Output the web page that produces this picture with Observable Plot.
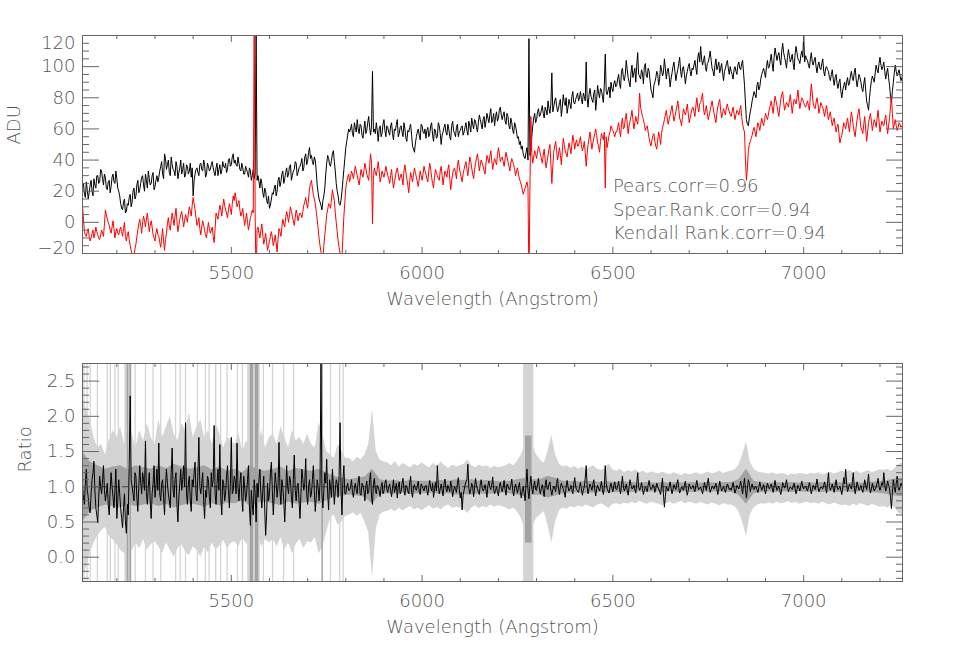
<!DOCTYPE html>
<html><head><meta charset="utf-8">
<script src="https://cdn.jsdelivr.net/npm/d3@7"></script>
<script src="https://cdn.jsdelivr.net/npm/@observablehq/plot@0.6"></script>
<style>
body{margin:0;background:#fff;}
#chart svg{display:block;}
</style></head><body><div id="chart"></div>
<script>
// ---------- sampling grid (Angstrom) ----------
const lambdaStart = 5110;
const specStep = 5;     // black, red, ratio (main samples)
const halfOffset = 2.5; // in-between samples of the same spectra
const bandStep = 10;    // light (outer) error band
const darkStep = 20;    // dark (inner) error band

// ---------- top panel: ADU spectra (rows of 100 A) ----------
const black = [
 22,18,26,15,24,20,28,22,30,26,33,24,29,21,27,23,31,25,28,20,        // 5110
 12,8,15,7,11,18,13,22,17,27,21,29,24,31,22,28,25,32,23,30,           // 5210
 29,36,31,44,34,40,30,37,33,39,28,35,31,38,30,36,33,29,17,31,         // 5310
 35,30,38,33,37,31,36,34,39,32,35,30,37,33,36,38,34,41,37,44,         // 5410
 40,36,38,33,35,31,34,29,33,30,28,125,30,22,25,16,20,12,9,15,         // 5510
 18,24,20,29,26,33,28,35,31,37,30,34,38,32,36,41,35,44,39,48,         // 5610
 43,37,40,24,15,11,14,22,38,41,36,44,39,25,17,11,20,34,48,56,         // 5710
 58,63,55,61,66,57,62,54,65,59,68,56,97,60,64,52,62,57,66,55,         // 5810
 61,56,64,53,59,66,57,62,55,60,52,58,63,49,45,55,60,53,62,57,         // 5910
 54,61,57,64,52,59,55,62,50,58,63,56,60,53,65,57,61,55,59,62,         // 6010
 58,64,56,62,67,60,65,58,69,63,66,61,70,64,73,66,62,71,67,74,         // 6110
 66,71,63,68,60,64,57,62,54,50,47,44,41,48,118,46,62,70,66,73,        // 6210
 69,75,67,72,78,70,96,74,80,71,77,68,82,75,70,79,73,84,76,81,         // 6310
 78,84,76,81,103,74,86,79,83,72,88,80,85,77,108,82,87,90,84,91,       // 6410
 88,95,86,99,91,104,93,87,101,96,90,109,94,98,89,102,93,97,85,80,     // 6510
 90,97,88,101,94,105,92,99,87,96,103,91,98,106,93,100,89,97,102,94,   // 6610
 98,104,95,109,113,101,107,97,103,110,99,94,105,100,96,102,91,99,104,95, // 6710
 97,92,100,95,103,98,104,88,66,62,71,78,84,80,90,87,95,99,93,104,     // 6810
 100,108,97,112,104,109,101,115,106,99,111,103,108,98,113,105,102,110,120,107, // 6910
 104,99,109,101,106,96,103,98,105,94,100,97,91,98,88,95,86,92,80,88,  // 7010
 85,93,89,97,91,99,87,95,90,84,93,78,72,86,94,90,101,96,106,98,       // 7110
 103,92,99,88,77,90,101,94,98,91,96                                   // 7210-7260
];
const blackHalf = [ // 5112.5, 5117.5, ...
 25,16,21,19,27,17,24,30,25,34,28,31,22,26,19,29,26,33,22,17,
 9,13,6,12,16,10,20,15,24,19,25,30,20,27,33,24,30,21,27,26,
 33,39,28,41,37,32,42,34,30,36,32,40,34,29,37,31,38,35,27,34,
 32,37,34,40,29,38,33,37,35,30,38,34,31,39,35,32,40,36,42,38,
 37,42,34,38,31,36,32,35,27,34,31,27,26,28,19,22,14,17,11,19,
 22,17,27,23,31,25,32,29,36,27,33,39,30,35,38,33,42,37,45,41,
 39,42,33,19,13,8,17,31,43,37,40,46,33,20,12,14,27,41,52,60,
 60,57,64,58,60,63,56,60,57,64,61,62,58,57,59,60,55,63,59,62,
 58,62,57,60,63,55,61,58,64,54,59,61,56,47,51,58,56,63,58,60,
 59,55,62,56,60,54,64,57,56,61,58,63,55,62,59,55,63,58,61,56,
 61,59,65,58,63,66,61,64,66,60,68,65,67,69,64,70,68,65,72,69,
 69,65,70,62,67,59,64,58,55,52,49,42,45,40,43,55,67,64,71,68,
 72,70,74,69,73,76,71,78,75,73,79,74,77,80,74,76,81,77,79,83,
 80,79,83,78,80,82,81,77,85,79,83,86,81,88,84,85,80,86,89,87,
 92,89,97,93,95,98,90,96,93,99,101,95,92,96,100,94,99,91,83,88,
 93,95,92,98,96,99,97,94,92,100,97,95,102,97,99,95,94,100,97,99,
 101,99,106,103,105,104,100,102,106,104,97,101,98,103,99,96,97,102,99,100,
 95,98,97,101,99,102,96,76,63,67,74,81,82,88,85,92,97,96,100,99,
 104,102,106,108,107,104,110,109,103,106,107,105,102,108,109,104,107,106,103,105,
 101,105,103,104,100,101,99,102,97,99,98,93,95,92,93,89,90,84,85,90,
 90,88,94,93,96,92,91,93,86,89,85,75,80,91,92,96,98,102,101,100,
 97,96,93,81,84,96,97,96,94,93
];
const red = [
 11,-6,-9,-4,-12,-7,-10,-3,-8,-11,-5,-9,8,2,-2,-7,1,-10,-4,-8,        // 5110
 -3,-9,0,-12,-6,-15,-20,-22,-14,-5,2,-7,4,-3,6,-6,1,-8,-12,-4,        // 5210
 -9,-16,-4,-18,-7,3,-5,6,-2,9,-6,2,7,-3,5,0,10,4,16,8,                // 5310
 -2,3,-8,1,-5,-10,0,-7,-3,-13,6,2,11,4,15,8,3,12,5,17,                // 5410
 19,10,14,4,9,-2,6,-5,3,8,130,-40,-3,-10,-1,-14,-7,-18,-12,-6,        // 5510
 -15,-8,-19,-4,-9,2,-3,7,0,10,4,-2,8,1,6,3,11,16,9,22,                // 5610
 27,18,12,2,-10,-19,-24,-8,5,12,9,21,14,0,-12,-20,-22,4,22,29,        // 5710
 26,33,28,36,30,24,34,29,38,31,27,44,-1,35,30,39,26,33,29,36,         // 5810
 30,25,34,22,29,35,27,31,24,37,28,19,32,26,35,29,23,33,27,36,         // 5910
 31,26,38,29,22,34,30,27,36,24,33,29,37,21,31,35,28,40,32,26,         // 6010
 34,39,30,42,35,28,38,44,33,40,36,31,43,38,46,34,41,37,48,39,         // 6110
 42,36,45,39,33,41,37,30,35,28,24,18,22,26,-40,68,38,46,41,49,        // 6210
 44,38,47,35,43,50,25,45,52,40,48,37,54,46,42,51,44,56,47,53,         // 6310
 49,55,46,52,36,50,58,47,54,60,51,45,57,53,22,48,56,62,59,55,         // 6410
 58,64,55,67,61,70,57,65,72,60,68,63,83,71,66,59,62,54,49,56,         // 6510
 52,47,58,50,61,66,72,63,69,75,65,71,78,67,62,73,69,76,64,70,         // 6610
 74,68,80,71,77,83,69,75,66,72,78,70,64,74,79,67,73,69,76,71,         // 6710
 68,74,66,72,69,75,63,58,27,46,52,56,61,55,64,59,67,62,70,66,         // 6810
 73,78,70,81,75,68,79,84,72,77,74,82,70,79,76,85,73,80,77,74,         // 6910
 78,72,89,76,73,80,70,77,74,68,75,66,71,62,67,58,63,51,56,64,         // 7010
 60,67,58,71,62,55,66,73,61,57,68,52,64,70,59,66,61,72,58,65,         // 7110
 62,69,57,67,81,60,66,59,64,61,63                                     // 7210-7260
];
const redHalf = [ // 5112.5, 5117.5, ...
 2,-8,-6,-9,-10,-5,-7,-6,-10,-8,-7,-1,5,0,-5,-3,-4,-6,-7,-5,
 -6,-4,-9,-8,-11,-18,-21,-17,-9,-1,-2,0,1,2,0,-2,-3,-10,-7,-8,
 -13,-10,-12,-11,-1,-2,1,2,4,1,-2,5,2,1,3,6,7,11,12,3,
 0,-4,-3,-2,-8,-5,-4,-5,-9,-4,4,7,8,10,11,6,8,9,12,14,
 15,12,8,6,3,2,0,-1,5,6,4,-5,-7,-5,-8,-11,-13,-15,-9,-10,
 -12,-13,-11,-6,-3,-1,3,4,5,7,1,3,5,4,5,7,13,12,15,25,
 22,15,7,-4,-15,-21,-15,-2,8,11,15,17,6,-6,-16,-23,-9,13,26,31,
 29,31,32,33,27,29,31,33,35,29,36,38,30,32,34,33,29,31,32,33,
 28,30,27,26,33,31,29,28,33,32,24,26,29,31,32,26,28,30,31,33,
 28,33,34,25,29,32,28,33,30,29,31,34,28,27,34,32,36,35,29,31,
 37,34,36,39,31,34,41,39,37,38,33,38,41,42,40,38,39,43,44,41,
 39,41,42,36,38,39,34,33,31,26,21,20,24,22,20,44,42,44,45,47,
 41,43,40,39,47,38,36,49,46,44,43,46,50,44,47,48,50,52,51,49,
 52,50,48,45,44,54,52,51,57,56,49,52,55,58,55,52,58,60,57,58,
 61,59,63,60,66,64,62,68,66,64,65,70,74,68,63,61,58,51,53,57,
 49,53,55,57,63,69,67,66,72,70,68,74,73,65,68,71,72,70,67,73,
 71,75,74,76,80,73,72,70,69,75,74,67,70,77,72,70,71,74,73,69,
 71,70,69,71,72,68,60,40,35,50,54,59,58,60,62,63,64,66,68,69,
 75,74,76,78,71,74,82,77,75,76,78,76,75,78,80,78,77,79,75,76,
 75,81,83,74,77,76,73,75,71,72,70,69,66,65,62,61,57,54,60,62,
 64,62,65,67,58,61,70,67,59,63,60,58,67,65,63,64,67,65,62,63,
 66,63,62,74,70,63,62,61,63,62
];

// ---------- bottom panel: ratio ----------
const ratio = [
 1.0,0.75,1.25,0.85,0.63,1.1,1.36,0.7,0.49,1.15,0.9,1.3,0.8,1.05,0.6,1.2,0.85,0.95,0.55,1.1,      // 5110
 0.7,0.42,0.9,0.34,0.6,2.29,1.0,0.8,1.15,0.65,1.3,0.9,1.1,1.65,0.75,1.2,0.55,1.05,0.85,1.25,      // 5210
 1.62,0.8,1.1,0.6,1.25,0.9,0.7,1.55,0.85,1.2,0.5,1.05,0.95,1.3,1.91,0.75,1.15,0.65,1.0,1.35,      // 5310
 0.8,1.7,0.9,1.2,0.55,0.85,1.1,0.7,1.0,1.87,0.75,1.25,1.6,0.6,1.05,0.9,1.3,0.7,1.7,0.95,          // 5410
 1.1,1.62,0.8,1.2,0.65,1.0,0.9,1.3,0.45,0.75,1.1,0.5,0.85,1.25,0.7,1.15,0.31,1.05,0.9,1.35,       // 5510
 0.6,1.2,0.85,1.63,0.75,1.0,0.5,1.3,0.9,1.1,0.7,1.45,0.8,1.05,0.55,1.25,0.95,1.4,0.75,1.1,        // 5610
 0.9,1.3,0.65,1.1,0.8,2.8,0.7,1.2,1.39,0.67,1.0,1.25,0.75,1.1,0.85,1.91,0.6,1.3,0.9,1.05,         // 5710
 0.95,1.1,0.85,1.05,0.9,1.15,0.88,1.02,0.8,1.08,0.92,1.2,0.75,1.12,0.9,1.0,0.86,1.06,0.94,1.1,    // 5810
 0.92,1.04,0.86,1.1,0.97,0.84,1.07,0.93,1.12,0.88,1.0,0.9,1.15,0.85,1.03,0.95,1.08,0.89,1.01,0.94, // 5910
 1.02,0.88,1.09,0.94,0.85,1.06,1.3,0.9,1.04,0.87,1.11,0.93,0.98,1.08,0.86,1.0,0.92,1.13,0.84,0.67, // 6010
 0.95,1.07,1.32,0.9,1.05,0.86,1.12,0.97,0.89,1.1,0.94,1.03,0.85,1.08,0.96,1.14,0.9,1.0,0.87,1.06,  // 6110
 0.93,1.09,0.88,1.02,0.96,1.11,0.87,1.04,0.91,1.06,0.84,1.0,0.8,1.25,0.83,1.15,0.9,1.08,0.95,1.12,  // 6210
 0.9,1.03,0.86,1.1,0.96,1.07,0.88,1.01,0.93,1.12,0.89,1.05,0.97,0.85,1.09,0.94,1.02,0.9,1.13,0.96,  // 6310
 0.92,1.06,0.88,1.0,1.3,0.9,1.04,0.95,1.1,0.87,1.02,0.94,1.08,0.89,1.3,0.97,0.91,1.05,0.93,1.07,   // 6410
 0.96,1.08,0.9,1.15,0.94,1.04,0.88,1.1,0.97,1.02,0.91,1.2,0.95,1.06,0.89,1.0,0.93,1.09,0.96,1.03,  // 6510
 0.92,1.05,0.97,0.89,1.12,0.71,1.0,0.94,1.07,0.9,1.03,0.96,1.1,0.91,1.0,0.95,1.08,0.88,1.04,0.97,  // 6610
 1.02,0.93,1.09,0.96,1.0,0.9,1.06,0.95,1.12,0.92,1.01,0.97,1.05,0.89,1.08,0.94,1.0,0.92,1.04,0.96,  // 6710
 0.95,1.06,0.91,1.02,0.97,1.08,0.9,1.12,0.84,1.1,0.93,1.04,0.96,1.0,0.92,1.07,0.95,1.03,0.9,1.05,  // 6810
 0.97,1.04,0.92,1.09,0.95,1.01,0.89,1.06,0.98,1.1,0.93,1.0,0.96,1.05,0.9,1.02,0.94,1.08,0.97,1.01,  // 6910
 0.94,1.06,0.9,1.02,0.96,1.11,0.93,1.0,0.97,1.07,0.91,1.2,0.95,1.04,0.92,1.1,0.96,1.01,0.89,1.13,  // 7010
 1.25,0.93,1.04,0.97,1.2,0.9,1.07,0.95,1.02,0.92,1.1,0.96,1.18,0.91,1.05,0.94,1.0,1.12,0.95,1.06,  // 7110
 1.2,0.94,1.08,0.97,0.69,1.1,0.92,1.15,0.95,1.05,1.0                                               // 7210-7260
];
const ratioHalf = [ // 5112.5, 5117.5, ...
 0.85,1.05,0.95,0.7,0.9,1.2,0.95,0.6,0.85,1.0,1.1,0.95,0.9,0.75,0.95,1.0,0.7,1.25,0.8,0.9,
 0.55,0.7,0.5,0.75,1.35,1.1,0.9,1.2,0.85,1.0,1.05,1.2,0.95,0.9,1.0,0.8,0.9,1.3,1.0,0.95,
 0.9,1.05,0.85,1.0,1.05,0.8,1.2,0.95,1.1,0.75,0.85,1.25,1.1,1.0,0.9,1.05,0.8,1.1,1.2,0.9,
 1.2,1.0,1.05,0.8,0.95,1.15,0.85,1.2,1.1,0.9,1.05,0.95,0.85,1.1,0.8,1.15,0.95,1.05,0.9,1.15,
 0.9,1.0,1.05,0.85,1.15,0.8,1.1,0.7,0.95,0.6,0.9,1.05,1.1,0.9,0.95,0.7,0.6,0.8,1.2,0.95,
 0.9,1.05,1.0,0.95,1.1,0.8,0.85,1.0,1.15,0.85,1.1,0.95,1.0,0.8,0.9,1.1,1.05,0.9,1.0,0.85,
 1.1,0.95,0.85,1.0,1.05,0.9,0.95,1.05,0.9,1.1,0.85,1.0,0.95,1.05,1.15,0.95,1.1,0.9,1.0,0.95,
 1.0,0.92,0.98,0.95,1.08,0.9,1.05,0.95,1.0,0.9,1.1,0.85,1.05,0.95,1.02,0.94,1.0,0.9,1.05,0.97,
 1.0,0.95,0.98,0.92,1.05,1.0,0.9,1.05,0.95,1.02,0.94,1.06,0.92,1.0,0.96,1.02,0.93,1.04,0.97,1.0,
 0.95,1.0,0.98,1.05,0.96,0.94,1.02,0.97,0.95,1.04,0.98,1.02,0.93,1.0,0.95,0.97,1.05,0.96,0.92,0.88,
 1.02,1.1,0.98,0.96,1.0,0.99,1.02,0.93,1.04,0.98,0.97,0.95,1.02,0.99,1.03,0.97,0.95,0.93,1.0,0.98,
 1.0,0.96,1.04,0.97,1.02,0.95,0.98,0.97,0.99,0.93,0.95,0.9,1.05,0.95,1.02,0.98,1.02,0.96,1.04,0.97,
 0.98,0.95,1.02,0.97,1.04,0.95,0.96,0.98,1.05,0.97,1.0,1.0,0.92,1.0,1.0,0.97,0.96,1.04,1.0,0.94,
 1.0,0.97,0.95,1.12,1.0,0.98,1.0,1.03,0.96,0.97,0.98,1.0,0.96,1.0,1.05,0.94,1.0,0.98,1.02,0.97,
 1.01,0.97,1.03,1.0,0.98,0.95,1.0,1.02,0.98,0.96,1.05,1.0,0.99,0.97,0.95,0.97,1.02,1.0,0.98,1.0,
 0.98,1.0,0.93,1.01,0.9,0.86,0.97,1.0,0.98,0.96,0.99,1.04,0.99,0.95,0.98,1.02,0.96,0.95,1.0,0.99,
 0.97,1.02,1.0,0.98,0.95,0.98,1.0,1.05,1.0,0.96,0.99,1.01,0.97,0.98,1.0,0.97,0.96,0.99,1.01,0.98,
 1.0,0.98,0.96,1.0,1.02,0.98,1.02,0.96,0.98,1.05,0.99,0.98,1.0,0.96,0.99,1.0,0.98,0.96,0.98,1.01,
 1.0,0.98,1.01,1.0,0.98,0.95,0.97,1.02,1.03,1.0,0.97,0.98,1.01,0.97,0.96,0.99,1.01,1.0,0.99,0.97,
 1.0,0.98,0.96,0.99,1.03,1.0,0.97,0.98,1.02,0.99,1.05,1.0,0.99,0.98,1.02,1.0,0.98,0.95,1.0,1.04,
 1.05,0.98,1.0,1.06,1.0,0.98,1.01,0.98,0.96,1.0,1.02,1.05,1.0,0.97,0.99,0.97,1.05,1.0,1.0,1.02,
 1.04,1.0,1.02,0.85,0.92,1.0,1.05,1.0,0.99,1.02
];
const lightHi = [
 2.3,2.1,1.95,1.7,1.55,1.6,1.45,1.65,1.8,1.7,
 1.85,1.6,1.9,1.75,1.55,1.8,1.65,1.9,1.7,1.6,
 1.95,1.7,1.85,2.0,1.75,1.65,1.9,1.8,2.05,1.7,
 1.85,1.95,1.7,1.8,1.6,1.9,1.75,1.55,1.7,1.65,
 1.6,1.75,1.5,1.65,1.55,1.7,1.6,1.8,1.55,1.7,
 1.75,1.6,1.85,1.7,1.55,1.8,1.65,1.7,1.6,1.75,
 1.6,1.55,1.9,1.75,1.5,1.45,1.4,1.6,1.5,1.4,
 1.4,1.35,1.42,1.38,1.45,1.6,2.1,1.5,1.38,1.35,
 1.34,1.3,1.36,1.28,1.33,1.3,1.27,1.32,1.29,1.34,
 1.3,1.27,1.33,1.29,1.35,1.3,1.26,1.31,1.28,1.3,
 1.32,1.38,1.3,1.27,1.31,1.28,1.3,1.26,1.29,1.27,
 1.28,1.3,1.33,1.3,1.36,1.45,1.6,1.7,1.6,1.45,
 1.38,1.33,1.5,1.73,1.45,1.32,1.28,1.3,1.26,1.29,
 1.25,1.28,1.24,1.27,1.3,1.25,1.23,1.26,1.32,1.24,
 1.22,1.25,1.2,1.23,1.21,1.24,1.2,1.22,1.19,1.21,
 1.2,1.18,1.21,1.19,1.17,1.2,1.18,1.16,1.19,1.17,
 1.18,1.2,1.17,1.19,1.21,1.18,1.2,1.22,1.19,1.21,
 1.22,1.24,1.3,1.45,1.64,1.35,1.25,1.21,1.2,1.19,
 1.18,1.2,1.17,1.19,1.18,1.16,1.18,1.17,1.19,1.18,
 1.17,1.19,1.18,1.2,1.17,1.19,1.21,1.18,1.2,1.22,
 1.21,1.23,1.2,1.22,1.19,1.21,1.23,1.2,1.22,1.24,
 1.23,1.25,1.22,1.26,1.32,1.34
];
const lightLo = [
 -0.3,-0.15,0.05,0.2,0.3,0.38,0.42,0.3,0.25,0.18,
 0.1,0.05,0.15,0.08,0.2,0.12,0.25,0.1,0.18,0.22,
 0.15,0.05,0.2,0.1,0.0,0.12,0.18,0.08,0.02,0.15,
 0.1,0.0,0.14,0.06,0.2,0.1,0.16,0.24,0.12,0.2,
 0.22,0.15,0.28,0.18,0.25,0.2,0.3,0.15,0.25,0.2,
 0.25,0.15,0.28,0.1,0.2,0.05,0.18,0.25,0.12,0.22,
 0.2,0.28,0.05,0.15,0.35,0.55,0.6,0.45,0.5,0.58,
 0.6,0.63,0.58,0.62,0.5,0.35,-0.3,0.4,0.6,0.64,
 0.65,0.68,0.64,0.7,0.66,0.69,0.72,0.67,0.7,0.66,
 0.7,0.73,0.68,0.71,0.67,0.72,0.74,0.69,0.71,0.7,
 0.68,0.62,0.7,0.73,0.69,0.72,0.7,0.74,0.71,0.73,
 0.72,0.7,0.67,0.7,0.64,0.55,0.4,0.35,0.45,0.55,
 0.6,0.65,0.45,0.2,0.5,0.66,0.7,0.68,0.72,0.7,
 0.73,0.71,0.74,0.72,0.7,0.74,0.76,0.73,0.69,0.75,
 0.76,0.74,0.77,0.75,0.78,0.76,0.79,0.77,0.75,0.78,
 0.77,0.75,0.73,0.76,0.78,0.75,0.77,0.79,0.76,0.78,
 0.77,0.75,0.78,0.76,0.74,0.77,0.75,0.73,0.76,0.74,
 0.74,0.72,0.65,0.5,0.29,0.6,0.7,0.74,0.76,0.75,
 0.77,0.75,0.78,0.76,0.77,0.79,0.76,0.78,0.75,0.77,
 0.78,0.76,0.77,0.75,0.78,0.76,0.74,0.77,0.75,0.73,
 0.74,0.72,0.75,0.73,0.76,0.74,0.72,0.75,0.73,0.71,
 0.72,0.7,0.73,0.69,0.62,0.6
];
const darkHi = [
 1.5,1.35,1.3,1.25,1.28,  1.3,1.24,1.3,1.27,1.25,  1.3,1.26,1.32,1.28,1.25,  1.27,1.3,1.24,1.28,1.22,
 1.25,1.2,1.3,1.24,1.22,  1.25,1.28,1.22,1.26,1.24,  1.22,1.25,1.2,1.15,1.12,  1.1,1.12,1.14,1.25,1.1,
 1.08,1.09,1.07,1.09,1.08,  1.08,1.07,1.09,1.08,1.1,  1.09,1.1,1.08,1.09,1.08,  1.07,1.08,1.1,1.12,1.1,
 1.1,1.15,1.12,1.08,1.07,  1.07,1.08,1.07,1.06,1.07,  1.06,1.07,1.06,1.05,1.06,  1.05,1.06,1.05,1.06,1.05,
 1.06,1.05,1.06,1.05,1.06,  1.06,1.1,1.25,1.08,1.06,  1.05,1.06,1.05,1.06,1.05,  1.06,1.05,1.06,1.05,1.06,
 1.05,1.06,1.05,1.06,1.07,  1.08,1.1,1.12,1.12
];
const darkLo = [
 0.5,0.65,0.7,0.74,0.72,  0.7,0.75,0.72,0.74,0.76,  0.72,0.75,0.7,0.73,0.76,  0.74,0.71,0.76,0.73,0.77,
 0.76,0.8,0.72,0.77,0.78,  0.76,0.73,0.78,0.75,0.77,  0.78,0.75,0.8,0.85,0.87,  0.88,0.87,0.85,0.75,0.89,
 0.9,0.89,0.91,0.89,0.9,  0.9,0.91,0.89,0.9,0.88,  0.89,0.88,0.9,0.89,0.9,  0.91,0.9,0.88,0.86,0.88,
 0.88,0.84,0.87,0.9,0.91,  0.91,0.9,0.91,0.92,0.91,  0.92,0.91,0.92,0.93,0.92,  0.93,0.92,0.93,0.92,0.93,
 0.92,0.93,0.92,0.93,0.92,  0.92,0.88,0.75,0.9,0.92,  0.93,0.92,0.93,0.92,0.93,  0.92,0.93,0.92,0.93,0.92,
 0.93,0.92,0.93,0.92,0.91,  0.9,0.88,0.86,0.86
];
// wavelengths where the errors blow up (full-height shading)
const lightLines = [5114,5122,5130,5149,5175,5183,5195,5204,5248,5275,5295,5315,5354,5366,5380,5411,5432,5442,5459,5472,5489,5516,5529,5584,5608,5637,5663,5760,5784,5793];
const lightBandStart = [5221, 5543, 6266];
const lightBandEnd   = [5240, 5576, 6293];
const darkBandStart  = [5550, 5563];
const darkBandEnd    = [5558, 5572];
const darkLines      = [5228, 5235, 5738];
const darkBoxStart = [6271], darkBoxEnd = [6288], darkBoxLo = [0.2], darkBoxHi = [1.72];

// ---------- axes ----------
const xDomain = [5110, 7259];
const xMajor = [5500, 6000, 6500, 7000];
const xMinor = [5200,5300,5400,5600,5700,5800,5900,6100,6200,6300,6400,6600,6700,6800,6900,7100,7200];
const aduDomain = [-20, 120];
const aduMajor = [-20, 0, 20, 40, 60, 80, 100, 120];
const aduLabels = ["\u221220","0","20","40","60","80","100","120"];
const aduMinor = [-15,-10,-5,5,10,15,25,30,35,45,50,55,65,70,75,85,90,95,105,110,115];
const ratioDomain = [-0.345, 2.75];
const ratioMajor = [0, 0.5, 1.0, 1.5, 2.0, 2.5];
const ratioLabels = ["0.0","0.5","1.0","1.5","2.0","2.5"];
const ratioMinor = [-0.3,-0.2,-0.1,0.1,0.2,0.3,0.4,0.6,0.7,0.8,0.9,1.1,1.2,1.3,1.4,1.6,1.7,1.8,1.9,2.1,2.2,2.3,2.4,2.6,2.7];
const ratioRef = [1.0];
const corrLines = ["Pears.corr=0.96", "Spear.Rank.corr=0.94", "Kendall Rank.corr=0.94"];
const corrX = 6500, corrY = [23, 8, -7];
const xTitle = "Wavelength (Angstrom)";

// ---------- styling ----------
const FONT = "'DejaVu Sans', 'Liberation Sans', sans-serif";
const frameColor = "#666";
const textColor = "#555";
const lightGray = "#d4d4d4";
const darkGray = "#a3a3a3";

const merged = (main, half) => [
  ...main.map((v, i) => ({lambda: lambdaStart + i * specStep, v})),
  ...half.map((v, i) => ({lambda: lambdaStart + halfOffset + i * specStep, v}))
].sort((a, b) => a.lambda - b.lambda);
const blackData = merged(black, blackHalf);
const redData = merged(red, redHalf);
const ratioData = merged(ratio, ratioHalf);
const lightBand = lightHi.map((h, i) => ({lambda: lambdaStart + i * bandStep, hi: h, lo: lightLo[i]}));
const darkBand = darkHi.map((h, i) => ({lambda: lambdaStart + i * darkStep, hi: h, lo: darkLo[i]}));
const lightRects = lightBandStart.map((s, i) => ({x1: s, x2: lightBandEnd[i]}));
const darkRects = darkBandStart.map((s, i) => ({x1: s, x2: darkBandEnd[i]}));
const darkBoxes = darkBoxStart.map((s, i) => ({x1: s, x2: darkBoxEnd[i], y1: darkBoxLo[i], y2: darkBoxHi[i]}));

const blank = () => "";
function frameTicks(yMajor, yMinor) {
  const common = {tickFormat: blank, label: null, stroke: frameColor};
  return [
    Plot.axisX(xMajor, {anchor: "bottom", tickSize: -6, ...common}),
    Plot.axisX(xMinor, {anchor: "bottom", tickSize: -3, ...common}),
    Plot.axisX(xMajor, {anchor: "top", tickSize: -6, ...common}),
    Plot.axisX(xMinor, {anchor: "top", tickSize: -3, ...common}),
    Plot.axisY(yMajor, {anchor: "left", tickSize: -17, ...common}),
    Plot.axisY(yMinor, {anchor: "left", tickSize: -7, ...common}),
    Plot.axisY(yMajor, {anchor: "right", tickSize: -17, ...common}),
    Plot.axisY(yMinor, {anchor: "right", tickSize: -7, ...common}),
    Plot.frame({stroke: frameColor}),
    Plot.text(xMajor, {x: d => d, frameAnchor: "bottom", dy: 20, text: d => String(d), fill: textColor, lineAnchor: "middle"}),
    Plot.text([xTitle], {frameAnchor: "bottom", dy: 45.5, text: d => d, fill: textColor, lineAnchor: "middle"})
  ];
}
const textStyle = {fontFamily: FONT, fontSize: "18px", fontWeight: 200, background: "white", overflow: "visible"};

const topPlot = Plot.plot({
  width: 967, height: 320,
  marginLeft: 82, marginRight: 65, marginTop: 35, marginBottom: 67,
  x: {domain: xDomain},
  y: {domain: aduDomain},
  style: textStyle,
  marks: [
    Plot.lineY(blackData, {x: "lambda", y: "v", stroke: "black", strokeWidth: 1, clip: true}),
    Plot.lineY(redData, {x: "lambda", y: "v", stroke: "#ff0000", strokeWidth: 1, clip: true}),
    ...frameTicks(aduMajor, aduMinor),
    Plot.text(aduMajor.map((v, i) => ({v, t: aduLabels[i]})).filter(d => d.v !== aduDomain[0] && d.v !== aduDomain[1]),
      {y: "v", text: "t", frameAnchor: "left", dx: -7, textAnchor: "end", fill: textColor, lineAnchor: "middle"}),
    Plot.text([{v: aduDomain[1], t: aduLabels[aduLabels.length - 1]}],
      {y: "v", text: "t", frameAnchor: "left", dx: -7, dy: 8, textAnchor: "end", fill: textColor, lineAnchor: "middle"}),
    Plot.text([{v: aduDomain[0], t: aduLabels[0]}],
      {y: "v", text: "t", frameAnchor: "left", dx: -7, dy: -5, textAnchor: "end", fill: textColor, lineAnchor: "middle"}),
    Plot.text(["ADU"], {frameAnchor: "left", dx: -68, rotate: -90, text: d => d, fill: textColor, lineAnchor: "middle"}),
    Plot.text(corrLines, {x: () => corrX, y: (d, i) => corrY[i], text: d => d, textAnchor: "start", fill: textColor, lineAnchor: "middle"})
  ]
});

const bottomPlot = Plot.plot({
  width: 967, height: 334,
  marginLeft: 82, marginRight: 65, marginTop: 43, marginBottom: 73,
  x: {domain: xDomain},
  y: {domain: ratioDomain},
  style: textStyle,
  marks: [
    Plot.rect(lightRects, {x1: "x1", x2: "x2", y1: () => ratioDomain[0], y2: () => ratioDomain[1], fill: lightGray}),
    Plot.ruleX(lightLines, {stroke: lightGray, strokeWidth: 1.3}),
    Plot.areaY(lightBand, {x: "lambda", y1: "lo", y2: "hi", fill: lightGray, clip: true}),
    Plot.rect(darkRects, {x1: "x1", x2: "x2", y1: () => ratioDomain[0], y2: () => ratioDomain[1], fill: darkGray}),
    Plot.ruleX(darkLines, {stroke: darkGray, strokeWidth: 1.5}),
    Plot.areaY(darkBand, {x: "lambda", y1: "lo", y2: "hi", fill: darkGray, clip: true}),
    Plot.rect(darkBoxes, {x1: "x1", x2: "x2", y1: "y1", y2: "y2", fill: darkGray}),
    Plot.ruleY(ratioRef, {stroke: "#444", strokeDasharray: "6,4", strokeWidth: 1}),
    Plot.lineY(ratioData, {x: "lambda", y: "v", stroke: "black", strokeWidth: 1, clip: true}),
    ...frameTicks(ratioMajor, ratioMinor),
    Plot.text(ratioMajor.map((v, i) => ({v, t: ratioLabels[i]})),
      {y: "v", text: "t", frameAnchor: "left", dx: -7, textAnchor: "end", fill: textColor, lineAnchor: "middle"}),
    Plot.text(["Ratio"], {frameAnchor: "left", dx: -57, rotate: -90, text: d => d, fill: textColor, lineAnchor: "middle"})
  ]
});

const chart = document.getElementById("chart");
chart.appendChild(topPlot);
chart.appendChild(bottomPlot);
</script></body></html>
